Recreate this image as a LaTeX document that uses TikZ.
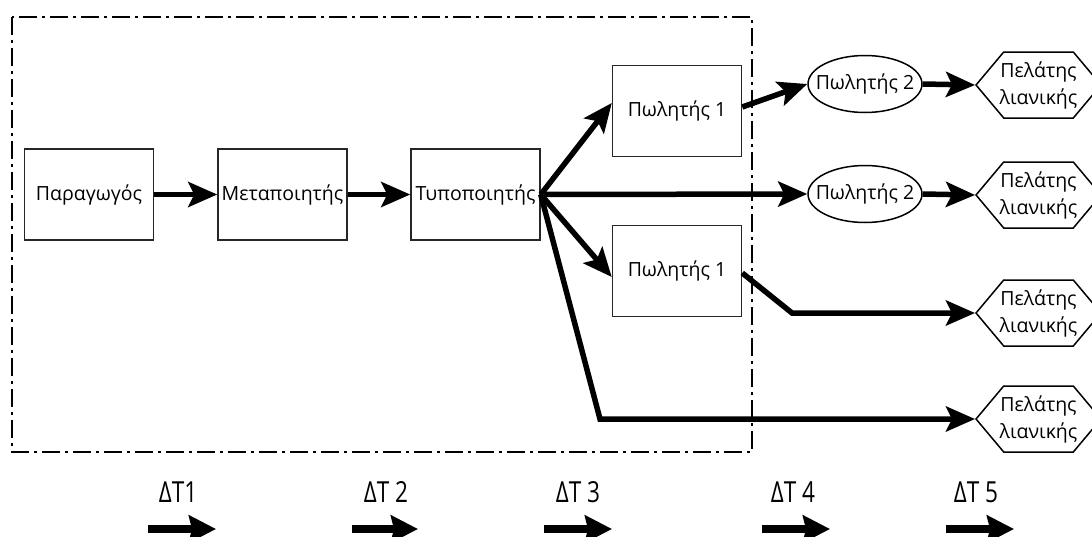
\documentclass[tikz,border=0pt]{standalone}
\usepackage{fontspec}
\setmainfont{Open Sans}
\newfontfamily\timefont[FakeStretch=0.78]{Open Sans}
\usetikzlibrary{arrows.meta,shapes.geometric,shapes.symbols}

\tikzset{
  stage/.style={draw=black!85, line width=1.5pt, minimum width=129pt,
    minimum height=91pt, inner sep=1pt, font=\fontsize{19.5}{24}\selectfont},
  seller/.style={ellipse, draw, line width=1.5pt, minimum width=114pt,
    minimum height=57pt, inner xsep=-10pt, inner ysep=0pt,
    font=\fontsize{19.5}{24}\selectfont},
  client/.style={signal, signal to=west and east, signal pointer angle=100,
    draw, line width=1.5pt, minimum width=123pt, minimum height=66pt,
    inner xsep=-4pt, inner ysep=0pt, align=center,
    font=\fontsize{19.5}{27}\selectfont},
  flow/.style={line width=5.5pt, -{Stealth[length=29pt,width=25pt,inset=6pt]}},
  timearr/.style={line width=8pt, -{Stealth[length=27pt,width=27pt,inset=3pt]}},
  frame/.style={line width=1.5pt, dash pattern=on 18pt off 5pt on 3pt off 5pt}
}

\begin{document}
\begin{tikzpicture}[x=1pt,y=-1pt]
\useasboundingbox (0,0) rectangle (1092,536);

% dash-dot frame
\draw[frame] (12,17) rectangle (752,452);

% chain
\node[stage] (prod) at (89,194.5) {Παραγωγός};
\node[stage] (proc) at (282.5,194.5) {Μεταποιητής};
\node[stage] (pack) at (475.5,194.5) {Τυποποιητής};
\node[stage] (selA) at (677,111) {Πωλητής 1};
\node[stage] (selB) at (677,271) {Πωλητής 1};

\node[seller] (selC) at (865,84) {Πωλητής 2};
\node[seller] (selD) at (865,194) {Πωλητής 2};

\node[client] (cliA) at (1038.5,85) {Πελάτης\\λιανικής};
\node[client] (cliB) at (1038.5,195) {Πελάτης\\λιανικής};
\node[client] (cliC) at (1038.5,313) {Πελάτης\\λιανικής};
\node[client] (cliD) at (1038.5,419) {Πελάτης\\λιανικής};

\coordinate (bendC) at (792,313);
\coordinate (bendD) at (600,419);

\draw[flow] (prod.east) -- (proc.west);
\draw[flow] (proc.east) -- (pack.west);
\draw[flow] (pack.east) -- ([yshift=8pt]selA.west);
\draw[flow] (pack.east) -- ([yshift=-6pt]selB.west);
\draw[flow] (pack.east) -- (selD.west);
\draw[flow] (pack.east) -- (bendD) -- (cliD.west);
\draw[flow] ([yshift=4pt]selA.east) -- (selC.west);
\draw[flow] ([yshift=-2pt]selB.east) -- (bendC) -- (cliC.west);
\draw[flow] (selC.east) -- (cliA.west);
\draw[flow] (selD.east) -- (cliB.west);

% time steps
\foreach \i/\x/\a/\b/\txt in {1/178/148/216/ΔT1, 2/386/352/418/ΔT 2,
    3/578/544/612/ΔT 3, 4/793/762/830/ΔT 4, 5/976/946/1014/ΔT 5}{
  \node[font=\timefont\fontsize{29}{30}\selectfont] (dt\i) at (\x,492) {\txt};
  \coordinate (ta\i) at (\a,529);
  \coordinate (tb\i) at (\b,529);
  \draw[timearr] (ta\i) -- (tb\i);
}
\end{tikzpicture}
\end{document}
